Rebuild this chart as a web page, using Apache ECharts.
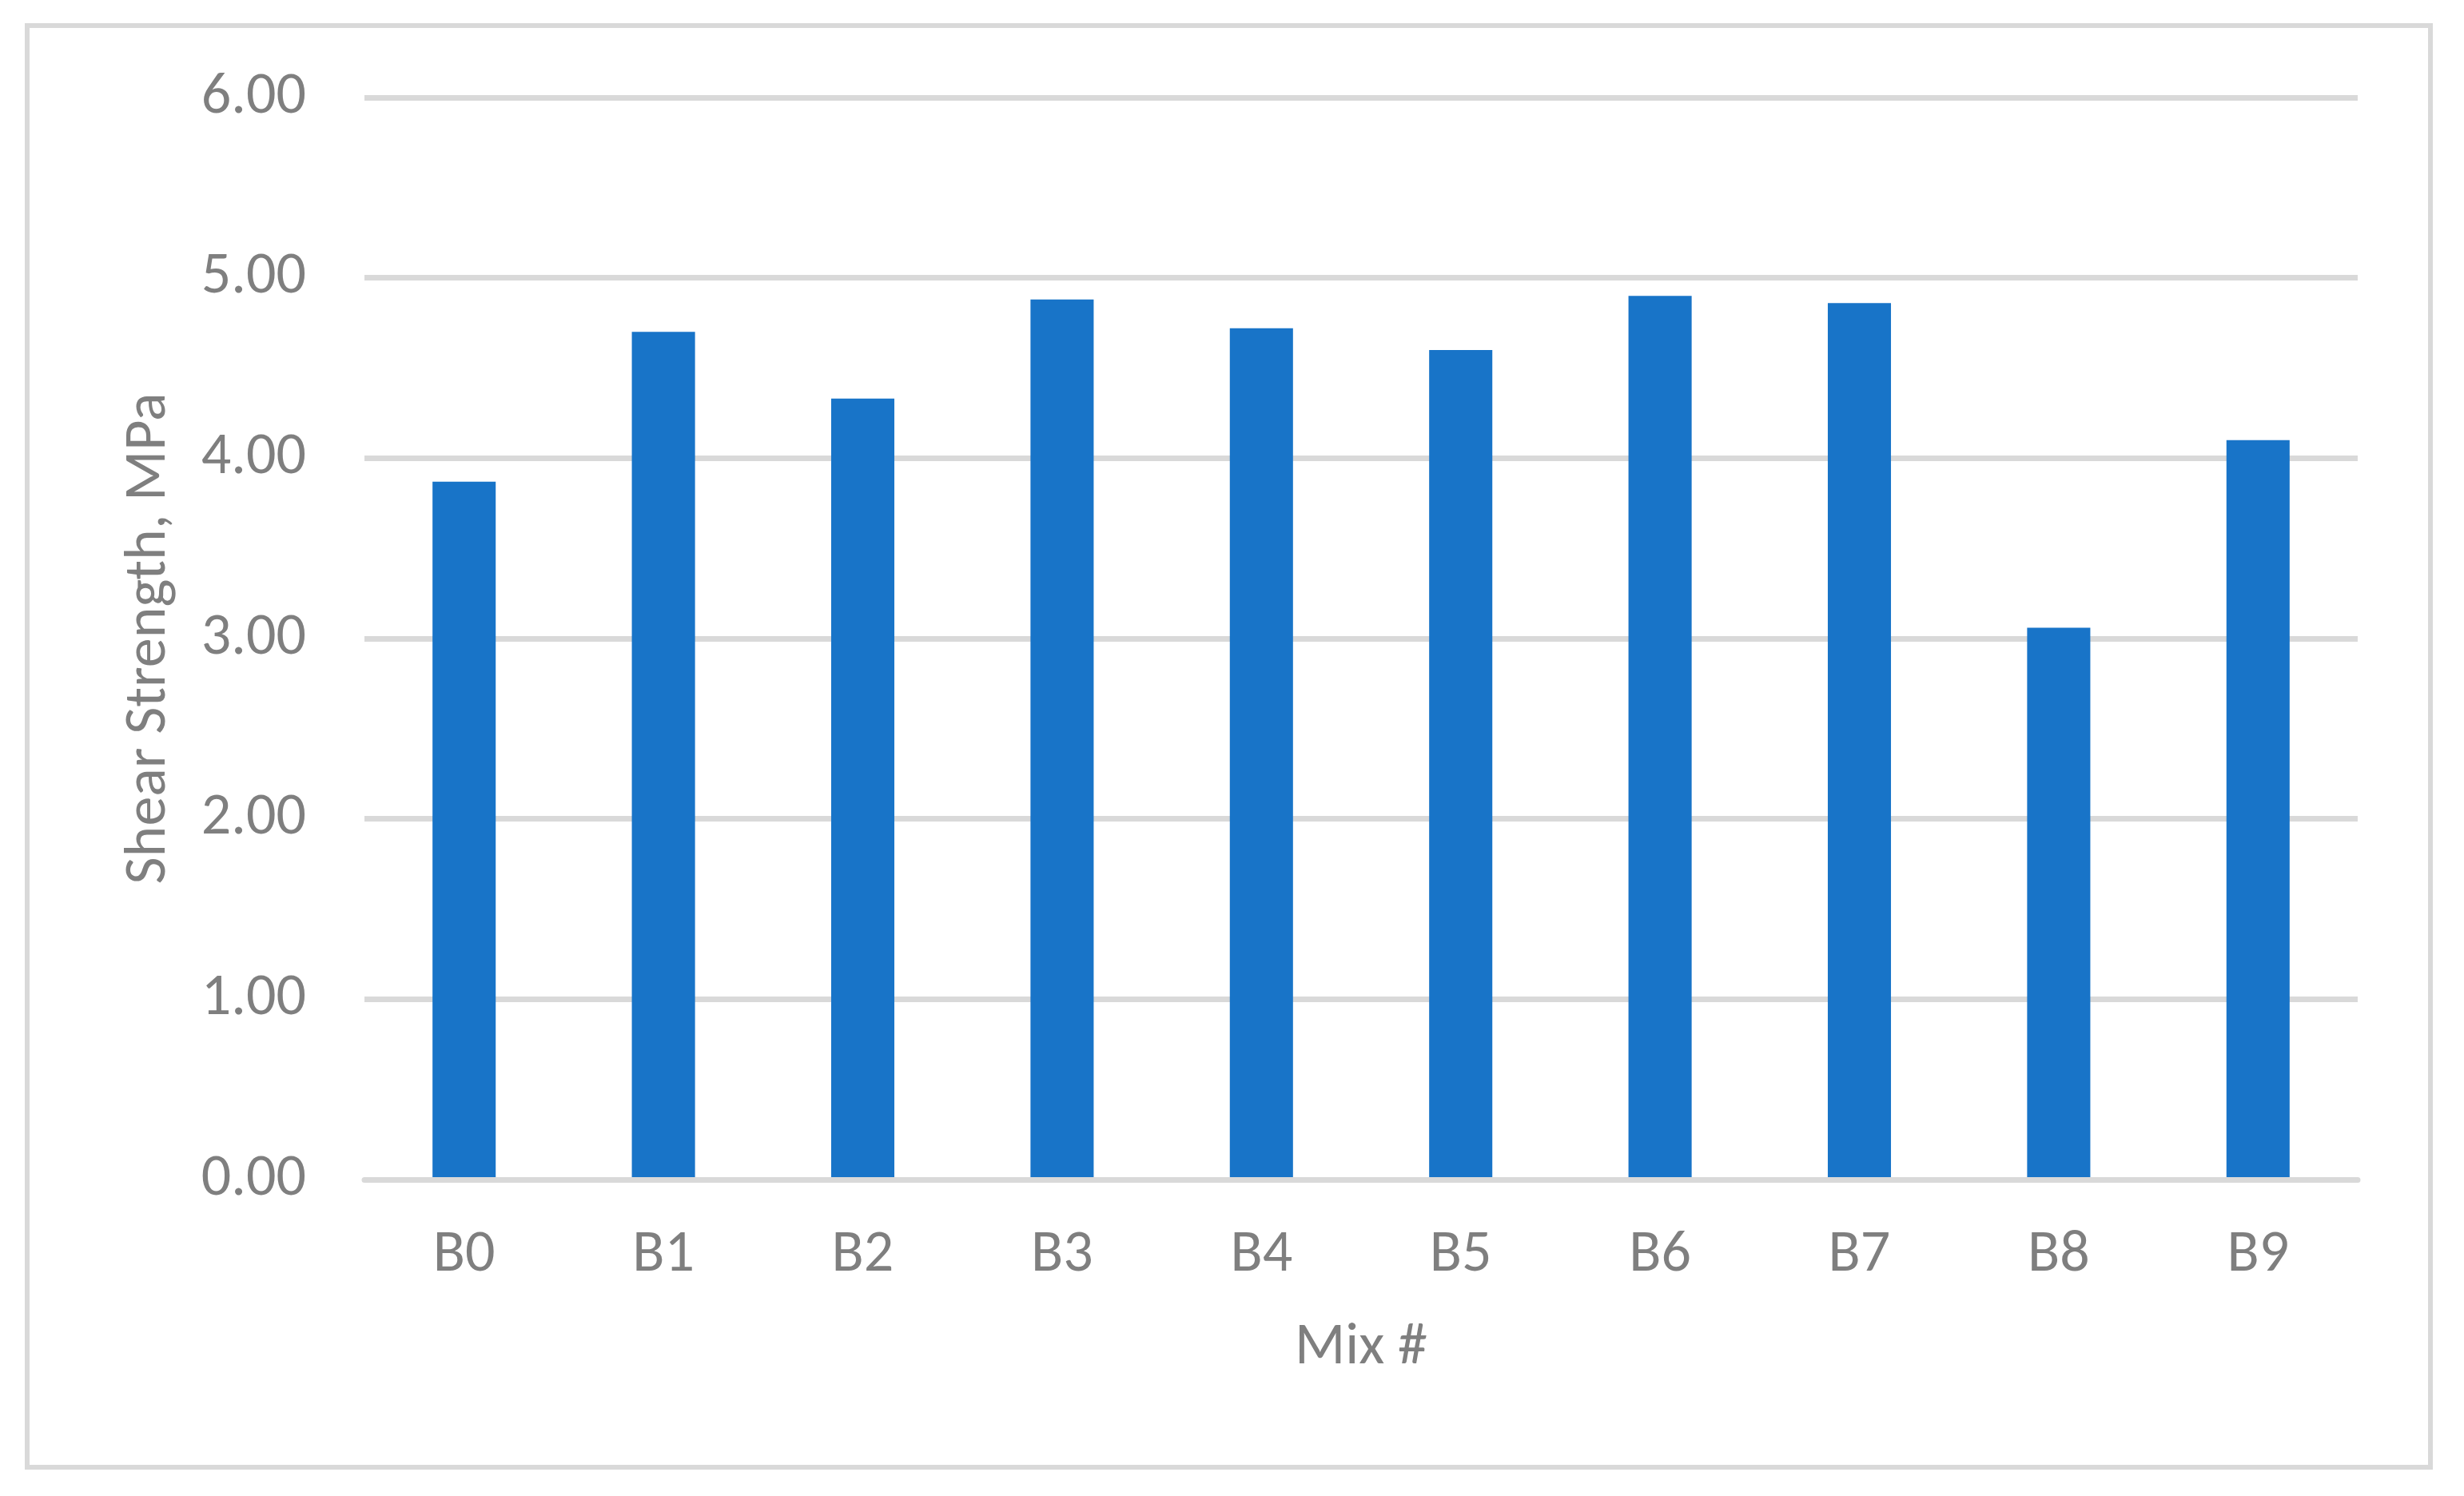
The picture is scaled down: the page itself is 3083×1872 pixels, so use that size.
<!DOCTYPE html>
<html>
<head>
<meta charset="utf-8">
<title>Shear Strength by Mix</title>
<script src="https://cdn.jsdelivr.net/npm/echarts@6/dist/echarts.min.js"></script>
<style>
  html, body { margin: 0; padding: 0; background: #fff; }
  #chart { width: 3083px; height: 1872px; }
</style>
</head>
<body>
<div id="chart"></div>
<script>
// 数据
var mixes = ['B0', 'B1', 'B2', 'B3', 'B4', 'B5', 'B6', 'B7', 'B8', 'B9'];
var shearStrength = [3.87, 4.70, 4.33, 4.88, 4.72, 4.60, 4.90, 4.86, 3.06, 4.10];
var yTicks = [0, 1, 2, 3, 4, 5, 6];

var grey = '#7f7f7f'
  ,gridGrey = '#d9d9d9'
  ,font = 'Carlito, Calibri, Lato, sans-serif'
  ,fs = 74;

var chart = echarts.init(document.getElementById('chart'));

chart.setOption({
  backgroundColor: '#fff',
  animation: false,
  //外框
  graphic: [{
    type: 'rect',
    shape: { x: 34, y: 32, width: 3007, height: 1804 },
    style: { fill: 'none', stroke: gridGrey, lineWidth: 6 },
    z: -1
  }],
  grid: {
    left: 456,
    right: 133,
    top: 122,
    bottom: 396
  },
  xAxis: {
    type: 'category',
    data: mixes,
    name: 'Mix #',
    nameLocation: 'middle',
    nameGap: 174,
    nameTextStyle: { color: grey, fontSize: fs, fontFamily: font },
    axisLine: { lineStyle: { color: gridGrey, width: 7 } },
    axisTick: { show: false },
    axisLabel: { color: grey, fontSize: fs, fontFamily: font, margin: 58 },
    z: 3
  },
  yAxis: {
    type: 'value',
    min: yTicks[0],
    max: yTicks[yTicks.length - 1],
    interval: 1,
    name: 'Shear Strength, MPa',
    nameLocation: 'middle',
    nameGap: 232,
    nameTextStyle: { color: grey, fontSize: fs, fontFamily: font },
    axisLine: { show: false },
    axisTick: { show: false },
    axisLabel: {
      color: grey, fontSize: fs, fontFamily: font, margin: 73,
      formatter: function (v) { return v.toFixed(2); }
    },
    splitLine: { lineStyle: { color: gridGrey, width: 7 } }
  },
  series: [{
    type: 'bar',
    data: shearStrength,
    barWidth: '31.7%',
    itemStyle: { color: '#1874c8' }
  }]
});
</script>
</body>
</html>
